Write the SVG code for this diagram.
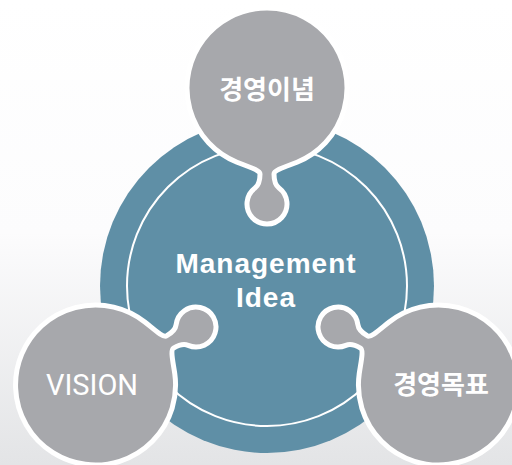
<svg xmlns="http://www.w3.org/2000/svg" xmlns:xlink="http://www.w3.org/1999/xlink" width="512" height="465" viewBox="0 0 512 465">
<style>
.piece{fill:#a7a8ac;stroke:#ffffff;stroke-width:5;stroke-linejoin:round}
.kr{font-family:"Noto Sans CJK KR","Noto Sans",sans-serif;font-weight:700;font-size:26px;fill:#ffffff;text-anchor:middle}
.en{font-family:"Liberation Sans",Arial,sans-serif;font-weight:700;font-size:28px;fill:#ffffff;text-anchor:middle;letter-spacing:1px}
.vis{font-family:Roboto,"Liberation Sans",sans-serif;font-weight:400;font-size:29px;fill:#ffffff;text-anchor:middle}
</style>
<defs>
<linearGradient id="bg" x1="0" y1="0" x2="0" y2="1">
<stop offset="0" stop-color="#ffffff"/>
<stop offset="0.5" stop-color="#fcfcfd"/>
<stop offset="1" stop-color="#e3e4e6"/>
</linearGradient>
<path id="piece" d="M237,162.2 C246.3,166 260,170 260,174 C260,179 259,185 255,188 A20,20 0 1 0 279,188 C275,185 274,179 274,174 C274,170 287.7,166 297,162.2 A80,80 0 1 0 237,162.2 Z"/>
</defs>
<rect width="512" height="465" fill="url(#bg)"/>
<g id="connectors"/>
<g id="node-center">
<circle cx="267" cy="286" r="167" fill="#5f8fa6"/>
<circle cx="267" cy="286" r="140" fill="none" stroke="#ffffff" stroke-width="2"/>
</g>
<g id="node-top">
<use xlink:href="#piece" class="piece"/>
<text class="kr" x="267" y="99">경영이념</text>
</g>
<g id="node-right">
<use xlink:href="#piece" class="piece" transform="rotate(120 267 286)"/>
<text class="kr" x="441" y="394">경영목표</text>
</g>
<g id="node-left">
<use xlink:href="#piece" class="piece" transform="rotate(-120 267 286)"/>
<text class="vis" x="92" y="395">VISION</text>
</g>
<g id="center-label">
<text class="en" x="266" y="273">Management</text>
<text class="en" x="266" y="307">Idea</text>
</g>
</svg>
